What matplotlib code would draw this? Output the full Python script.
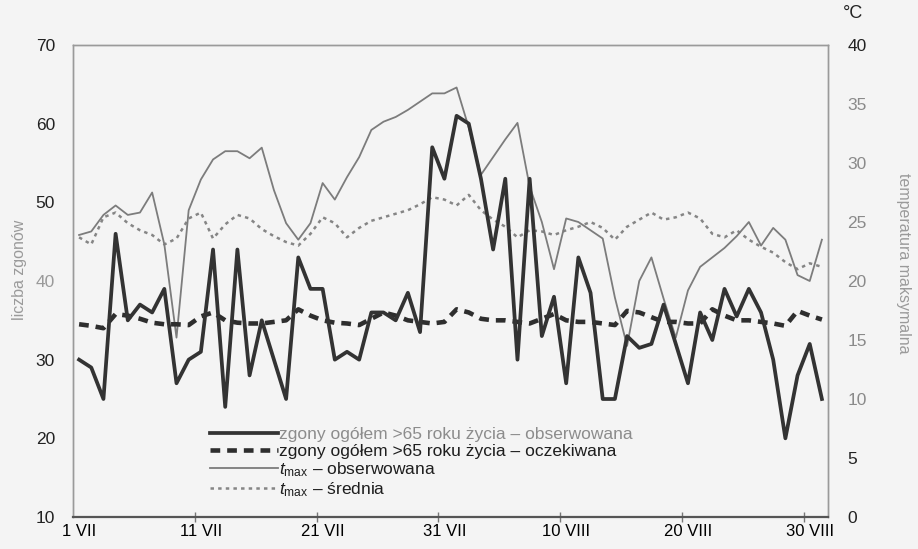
import matplotlib
matplotlib.use("Agg")
import matplotlib.pyplot as plt

plt.rcParams['font.family'] = ['Liberation Sans', 'DejaVu Sans']
plt.rcParams['mathtext.fontset'] = 'custom'
plt.rcParams['mathtext.rm'] = 'Liberation Sans'
plt.rcParams['mathtext.it'] = 'Liberation Sans:italic'
plt.rcParams['mathtext.bf'] = 'Liberation Sans:bold'
plt.rcParams['lines.scale_dashes'] = False

# ---- data (1 VII .. 31 VIII, 62 days) ----
tick_labels = ["1 VII", "11 VII", "21 VII", "31 VII", "10 VIII", "20 VIII", "30 VIII"]

deaths_observed = [30, 29, 25, 46, 35, 37, 36, 39, 27, 30,
                   31, 44, 24, 44, 28, 35, 30, 25, 43, 39,
                   39, 30, 31, 30, 36, 36, 35, 38.5, 33.5, 57,
                   53, 61, 60, 53, 44, 53, 30, 53, 33, 38,
                   27, 43, 38.5, 25, 25, 33, 31.5, 32, 37, 32,
                   27, 36, 32.5, 39, 35.5, 39, 36, 30, 20, 28,
                   32, 25]

deaths_expected = [34.5, 34.3, 34.0, 35.8, 35.6, 35.2, 34.7, 34.5, 34.5, 34.4,
                   35.5, 36.0, 35.0, 34.7, 34.6, 34.6, 34.8, 35.0, 36.4, 35.6,
                   35.0, 34.7, 34.6, 34.4, 35.2, 36.0, 35.6, 35.0, 34.8, 34.6,
                   34.8, 36.4, 36.0, 35.2, 35.0, 35.0, 34.8, 34.6, 35.2, 35.8,
                   35.0, 34.8, 34.8, 34.6, 34.4, 36.2, 36.0, 35.4, 34.8, 34.8,
                   34.6, 34.6, 36.4, 35.6, 35.0, 35.0, 34.8, 34.6, 34.3, 36.2,
                   35.6, 35.1]

tmax_observed = [23.9, 24.2, 25.6, 26.4, 25.6, 25.8, 27.5, 23.1, 15.2, 26.0,
                 28.6, 30.3, 31.0, 31.0, 30.4, 31.3, 27.7, 24.9, 23.5, 24.9,
                 28.3, 26.9, 28.8, 30.5, 32.8, 33.5, 33.9, 34.5, 35.2, 35.9,
                 35.9, 36.4, 33.0, 29.0, 30.5, 32.0, 33.4, 28.0, 25.0, 21.0,
                 25.3, 25.0, 24.3, 23.6, 18.6, 14.5, 20.0, 22.0, 18.5, 15.2,
                 19.2, 21.2, 22.0, 22.8, 23.8, 25.0, 23.0, 24.5, 23.5, 20.5,
                 20.0, 23.5]

tmax_mean = [23.7, 23.1, 25.4, 25.8, 24.9, 24.3, 23.9, 23.1, 23.6, 25.3,
             25.8, 23.6, 24.8, 25.6, 25.3, 24.4, 23.8, 23.3, 23.0, 24.0,
             25.4, 24.9, 23.7, 24.5, 25.1, 25.4, 25.7, 26.0, 26.5, 27.1,
             26.9, 26.4, 27.3, 26.0, 25.2, 24.6, 23.7, 24.3, 24.2, 23.9,
             24.3, 24.6, 25.0, 24.5, 23.5, 24.6, 25.2, 25.8, 25.2, 25.4,
             25.8, 25.3, 24.0, 23.7, 24.3, 23.5, 22.9, 22.4, 21.6, 21.0,
             21.5, 21.2]

days = list(range(len(deaths_observed)))
label_pos = [0, 10, 20, 30, 40, 50, 60]
tick_marks = [9.5, 19.5, 29.5, 39.5, 49.5, 59.5]

bg = '#f4f4f4'
fig = plt.figure(figsize=(9.18, 5.49), dpi=100, facecolor=bg)
ax = fig.add_axes([73/918, 1-517/549, (828-73)/918, (517-45)/549])
ax2 = ax.twinx()
ax.set_zorder(ax2.get_zorder() + 1)
ax.patch.set_visible(False)
ax2.patch.set_facecolor(bg)

c_dark = '#2e2e2e'
c_gray = '#7c7c7c'

l4, = ax2.plot(days, tmax_mean, color='#858585', lw=1.8, dashes=(2.5, 3.0),
               label=r'$t_{\mathrm{max}}$ – średnia')
l3, = ax2.plot(days, tmax_observed, color=c_gray, lw=1.3,
               label=r'$t_{\mathrm{max}}$ – obserwowana')
l2, = ax.plot(days, deaths_expected, color=c_dark, lw=3.3, dashes=(7, 5),
              label='zgony ogółem >65 roku życia – oczekiwana')
l1, = ax.plot(days, deaths_observed, color='#333333', lw=2.7,
              label='zgony ogółem >65 roku życia – obserwowana')

ax.set_xlim(-0.5, len(days) - 0.5)
ax.set_ylim(10, 70)
ax2.set_ylim(0, 40)
ax.set_yticks([10, 20, 30, 40, 50, 60, 70])
ax2.set_yticks([0, 5, 10, 15, 20, 25, 30, 35, 40])

ax.set_xticks(label_pos)
ax.set_xticklabels(tick_labels, fontsize=12)
ax.set_xticks(tick_marks, minor=True)
ax.tick_params(axis='x', which='major', length=0, pad=5)
ax.tick_params(axis='x', which='minor', length=7, direction='inout', color='#777777', width=1)
ax.tick_params(axis='y', length=0, pad=13, labelsize=12.5)
ax2.tick_params(axis='y', length=0, pad=14, labelsize=12.5)
for t in ax.get_yticklabels():
    t.set_color('#222222')
ax.get_yticklabels()[3].set_color('#9a9a9a')
for i, t in enumerate(ax2.get_yticklabels()):
    t.set_color('#8a8a8a' if 2 <= i <= 7 else '#222222')

for a in (ax, ax2):
    for s in a.spines.values():
        s.set_color('#9a9a9a')
        s.set_linewidth(1.0)
ax.spines['bottom'].set_color('#555555')
ax.spines['bottom'].set_linewidth(1.6)
ax2.spines['bottom'].set_visible(False)

fig.text(20/918, 1-270/549, 'liczba zgonów', rotation=90, ha='center', va='center',
         fontsize=11.5, color='#9a9a9a')
fig.text(903/918, 1-263/549, 'temperatura maksymalna', rotation=270, ha='center', va='center',
         fontsize=11.5, color='#9a9a9a')
fig.text(843/918, 1-14/549, '°C', ha='left', va='center', fontsize=13, color='#222222')

leg = ax.legend(handles=[l1, l2, l3, l4], loc='upper left',
                bbox_to_anchor=((203-73)/755, (517-420)/472),
                frameon=False, fontsize=12.5, handlelength=3.9, handletextpad=0.1,
                labelspacing=0.08, borderaxespad=0)
texts = leg.get_texts()
texts[0].set_color('#8c8c8c')
for t in texts[1:]:
    t.set_color('#1e1e1e')

fig.savefig('out.png', dpi=100, facecolor=bg)
